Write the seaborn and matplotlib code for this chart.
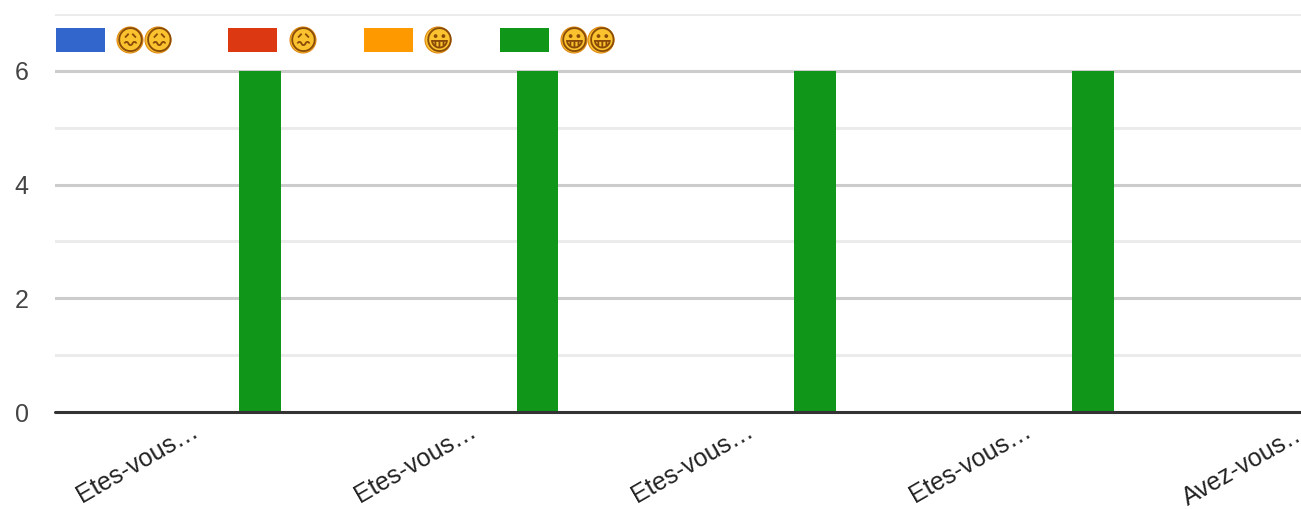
import pandas as pd
import matplotlib.pyplot as plt
from matplotlib.patches import Circle
from matplotlib.transforms import IdentityTransform, ScaledTranslation
import seaborn as sns

# Data
questions = ['q1', 'q2', 'q3', 'q4', 'q5']
tick_labels = ['Etes-vous…', 'Etes-vous…', 'Etes-vous…', 'Etes-vous…', 'Avez-vous…']
very_bad = [0, 0, 0, 0, 0]
bad = [0, 0, 0, 0, 0]
good = [0, 0, 0, 0, 0]
very_good = [6, 6, 6, 6, 0]
# trailing space on the first name widens its legend column a little
series_names = ['😖😖 ', '😖', '😀', '😀😀']
colors = ['#3366cc', '#dc3912', '#ff9900', '#109618']

rows = []
for name, values in zip(series_names, [very_bad, bad, good, very_good]):
    for q, v in zip(questions, values):
        rows.append({'Question': q, 'Answer': name, 'Count': v})
df = pd.DataFrame(rows)

sns.set_theme(style='white')
plt.rcParams['font.family'] = ['Liberation Sans', 'DejaVu Sans']

W, H = 1301, 509
fig = plt.figure(figsize=(W / 100, H / 100), dpi=100)
# the plot runs past the right edge of the image, the fifth group is cut off
ax = fig.add_axes([55 / W, (H - 412) / H, 1392 / W, 398 / H])

sns.barplot(data=df, x='Question', y='Count', hue='Answer', palette=colors,
            width=0.6, gap=0, saturation=1, linewidth=0, ax=ax, zorder=3)

ax.set_xlim(-0.512, 4.5)
ax.set_ylim(0, 7)
ax.set_xlabel('')
ax.set_ylabel('')
sns.despine(ax=ax, left=True, bottom=True, top=True, right=True)

# Gridlines
ax.set_yticks([0, 2, 4, 6])
ax.set_yticks([1, 3, 5, 7], minor=True)
ax.grid(axis='y', which='major', color='#cccccc', linewidth=2.2, zorder=0)
ax.grid(axis='y', which='minor', color='#ebebeb', linewidth=2.2, zorder=0)
ax.grid(axis='x', visible=False)
ax.set_axisbelow(True)
ax.axhline(0, color='#333333', linewidth=2.2, zorder=4, clip_on=False)

ax.tick_params(axis='y', which='both', length=0, pad=19, labelsize=18, labelcolor='#444444')
ax.set_xticks(range(len(questions)))
ax.set_xticklabels(tick_labels, rotation=30, ha='right', rotation_mode='anchor',
                   fontsize=18, color='#222222')
ax.tick_params(axis='x', length=0, pad=5)
for label in ax.get_xticklabels():
    label.set_transform(label.get_transform() + ScaledTranslation(-7 / 100, 0, fig.dpi_scale_trans))

# Legend, across the top of the plot
ax.legend(loc='upper left', ncol=4, frameon=False, fontsize=20, handlelength=1.76, handleheight=0.95,
          handletextpad=0.40, columnspacing=1.69, borderpad=0, borderaxespad=0,
          labelcolor='#8a4b08')
leg = ax.get_legend()
leg.set_bbox_to_anchor((56 / W, (H - 28) / H), transform=fig.transFigure)

# yellow faces behind the emoji glyphs
for x in [130, 158, 303, 438, 574, 601]:
    ax.add_patch(Circle((x, H - 40), 13, facecolor='#f9c22e', edgecolor='#e08a12', linewidth=0.8,
                        transform=IdentityTransform(), clip_on=False, zorder=6))
leg.set_zorder(7)

plt.savefig('out.png', dpi=100)
